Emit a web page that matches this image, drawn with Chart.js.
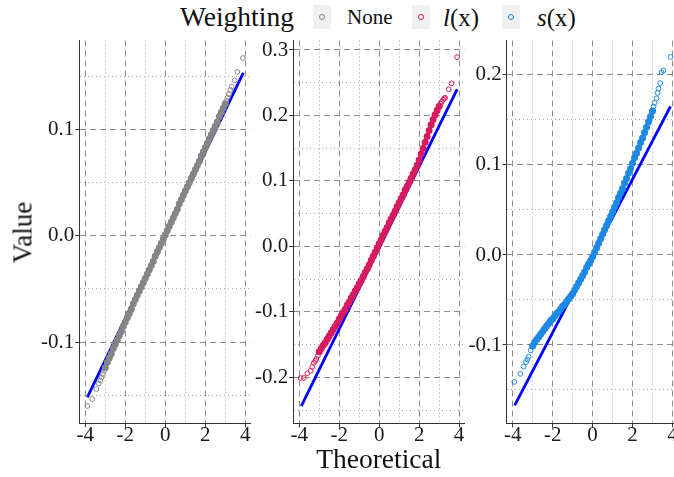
<!DOCTYPE html>
<html>
<head>
<meta charset="utf-8">
<script src="https://cdn.jsdelivr.net/npm/chart.js@4.4.1/dist/chart.umd.min.js"></script>
<style>
html, body { margin: 0; padding: 0; width: 674px; height: 477px; overflow: hidden; background: #fff; }
canvas { position: absolute; top: 0; }
.txt { position: absolute; font-family: "Liberation Serif", serif; color: #111; white-space: nowrap; }
.key { position: absolute; top: 5px; width: 18px; height: 24px; background: #f0f0f0; }
.key i { position: absolute; left: 6px; top: 9px; width: 4px; height: 4px; border: 1px solid; border-radius: 50%; }
</style>
</head>
<body>
<div class="txt" style="left:180px; top:3.4px; font-size:27.5px; line-height:27px;">Weighting</div>
<div class="key" style="left:313px;"><i style="border-color:#858585"></i></div>
<div class="txt" style="left:347px; top:7.4px; font-size:21px; line-height:21px;">None</div>
<div class="key" style="left:412px;"><i style="border-color:#d81b60"></i></div>
<div class="txt" style="left:443px; top:5.4px; font-size:25px; line-height:25px;"><i>l</i>(x)</div>
<div class="key" style="left:502px;"><i style="border-color:#1e88e5"></i></div>
<div class="txt" style="left:537px; top:5.4px; font-size:25px; line-height:25px;"><i>s</i>(x)</div>

<canvas id="p1" width="258" height="477" style="left:0px"></canvas>
<canvas id="p2" width="222" height="477" style="left:250px"></canvas>
<canvas id="p3" width="226" height="477" style="left:460px"></canvas>

<div class="txt" style="left:-76.6px; top:218.5px; width:200px; text-align:center; font-size:27px; line-height:27px; transform:rotate(-90deg);">Value</div>
<div class="txt" style="left:278.8px; top:445.4px; width:200px; text-align:center; font-size:27.5px; line-height:27px;">Theoretical</div>

<script>
// Cuantiles teóricos de la banda central
var bandQ = [-3.0, -2.9, -2.8, -2.7, -2.6, -2.5, -2.4, -2.3, -2.2, -2.1,
             -2.0, -1.9, -1.8, -1.7, -1.6, -1.5, -1.4, -1.3, -1.2, -1.1,
             -1.0, -0.9, -0.8, -0.7, -0.6, -0.5, -0.4, -0.3, -0.2, -0.1,
             0.0,
             0.1, 0.2, 0.3, 0.4, 0.5, 0.6, 0.7, 0.8, 0.9, 1.0,
             1.1, 1.2, 1.3, 1.4, 1.5, 1.6, 1.7, 1.8, 1.9, 2.0,
             2.1, 2.2, 2.3, 2.4, 2.5, 2.6, 2.7, 2.8, 2.9, 3.0];

// Weighting = None
var noneBand = [-0.124, -0.119, -0.115, -0.111, -0.106, -0.102, -0.098, -0.094, -0.090, -0.085,
                -0.081, -0.077, -0.073, -0.069, -0.064, -0.060, -0.056, -0.052, -0.048, -0.044,
                -0.040, -0.036, -0.032, -0.028, -0.024, -0.019, -0.015, -0.011, -0.007, -0.003,
                0.001,
                0.005, 0.009, 0.013, 0.017, 0.021, 0.025, 0.030, 0.034, 0.038, 0.042,
                0.046, 0.050, 0.054, 0.058, 0.062, 0.066, 0.070, 0.075, 0.079, 0.083,
                0.087, 0.091, 0.095, 0.099, 0.103, 0.107, 0.112, 0.116, 0.120, 0.124];
var noneTailQ = [-3.9, -3.65, -3.45, -3.32, -3.25, -3.18, -3.12, -3.06, 3.06, 3.12, 3.18, 3.25, 3.32, 3.47, 3.6, 3.88];
var noneTail = [-0.160, -0.1535, -0.144, -0.139, -0.136, -0.133, -0.130, -0.127, 0.127, 0.130, 0.133, 0.137, 0.140, 0.146, 0.154, 0.167];

// Weighting = l(x)
var lxBand = [-0.161, -0.156, -0.151, -0.147, -0.142, -0.137, -0.132, -0.127, -0.122, -0.117,
              -0.111, -0.106, -0.101, -0.096, -0.090, -0.085, -0.079, -0.074, -0.068, -0.063,
              -0.057, -0.052, -0.046, -0.040, -0.034, -0.028, -0.021, -0.015, -0.009, -0.002,
              0.004,
              0.010, 0.017, 0.023, 0.029, 0.036, 0.042, 0.048, 0.054, 0.061, 0.067,
              0.073, 0.079, 0.086, 0.092, 0.098, 0.104, 0.111, 0.117, 0.124, 0.132,
              0.141, 0.150, 0.159, 0.168, 0.177, 0.186, 0.194, 0.201, 0.208, 0.214];
var lxTailQ = [-3.93, -3.77, -3.6, -3.43, -3.35, -3.27, -3.2, -3.15, -3.07, 3.07, 3.13, 3.2, 3.26, 3.3, 3.48, 3.62, 3.9];
var lxTail = [-0.201, -0.201, -0.194, -0.190, -0.184, -0.178, -0.175, -0.172, -0.167, 0.218, 0.221, 0.224, 0.226, 0.227, 0.240, 0.249, 0.289];

// Weighting = s(x)
var sxBand = [-0.101, -0.097, -0.094, -0.091, -0.088, -0.085, -0.082, -0.079, -0.076, -0.073,
              -0.071, -0.068, -0.065, -0.063, -0.060, -0.057, -0.055, -0.052, -0.049, -0.046,
              -0.043, -0.039, -0.035, -0.031, -0.027, -0.023, -0.019, -0.014, -0.010, -0.006,
              -0.002,
              0.003, 0.008, 0.013, 0.018, 0.023, 0.028, 0.033, 0.038, 0.043, 0.048,
              0.053, 0.058, 0.064, 0.069, 0.074, 0.080, 0.085, 0.091, 0.096, 0.102,
              0.108, 0.113, 0.119, 0.125, 0.130, 0.136, 0.142, 0.148, 0.154, 0.160];
var sxTailQ = [-3.92, -3.62, -3.45, -3.33, -3.27, -3.2, -3.1, 3.05, 3.1, 3.2, 3.25, 3.3, 3.38, 3.45, 3.55, 3.9];
var sxTail = [-0.141, -0.132, -0.124, -0.119, -0.116, -0.113, -0.106, 0.165, 0.169, 0.174, 0.180, 0.185, 0.191, 0.203, 0.205, 0.220];

// Rectas de referencia (qq-line)
var refQ = [-3.9, 3.9];
var noneRef = [-0.152, 0.153];
var lxRef = [-0.244, 0.240];
var sxRef = [-0.167, 0.165];

// Marcas de los ejes
var xTicks = [-4, -2, 0, 2, 4];
var xMinor = [-3, -1, 1, 3];
var noneTicks = [-0.1, 0.0, 0.1];
var noneMinor = [-0.15, -0.05, 0.05, 0.15];
var lxTicks = [-0.2, -0.1, 0.0, 0.1, 0.2, 0.3];
var lxMinor = [-0.25, -0.15, -0.05, 0.05, 0.15, 0.25];
var sxTicks = [-0.1, 0.0, 0.1, 0.2];
var sxMinor = [-0.15, -0.05, 0.05, 0.15];

var FUENTE = "'Liberation Serif', serif";

function esMayor(v, lista) {
    return lista.some(function (t) { return Math.abs(t - v) < 1e-9; });
}

function puntos(qs, vs) {
    return vs.map(function (v, i) { return { x: qs[i], y: v }; });
}

function eje(mayores, menores, extra) {
    var todos = mayores.concat(menores).sort(function (a, b) { return a - b; });
    var cfg = {
        type: 'linear',
        afterBuildTicks: function (s) {
            s.ticks = todos.map(function (v) { return { value: v }; });
        },
        ticks: {
            autoSkip: false,
            maxRotation: 0,
            color: '#1a1a1a',
            font: { family: FUENTE, size: 21, lineHeight: 1 },
            callback: function (v) {
                if (!esMayor(v, mayores)) return '';
                return extra.decimales ? v.toFixed(1) : String(v);
            }
        },
        grid: {
            lineWidth: 1,
            color: function (c) {
                return c.tick && esMayor(c.tick.value, mayores) ? '#8c8c8c' : '#a6a6a6';
            },
            tickLength: 4,
            tickWidth: 1,
            tickColor: function (c) {
                return c.tick && esMayor(c.tick.value, mayores) ? '#333' : 'rgba(0,0,0,0)';
            }
        },
        border: {
            color: '#333',
            width: 1,
            dash: function (c) {
                if (!c.tick) return [];
                return esMayor(c.tick.value, mayores) ? [6, 4] : [1, 3];
            }
        }
    };
    for (var k in extra.opts) cfg[k] = extra.opts[k];
    for (var t in extra.ticks) cfg.ticks[t] = extra.ticks[t];
    return cfg;
}

function panel(id, color, band, tailQ, tail, ref, yTicks, yMinor, yMin, yMax, yWidth, padRight) {
    var ctx = document.getElementById(id).getContext('2d');
    return new Chart(ctx, {
        type: 'scatter',
        data: {
            datasets: [{
                data: puntos(bandQ, band),
                backgroundColor: color,
                borderColor: color,
                pointRadius: 2.8,
                borderWidth: 1.4
            }, {
                data: puntos(tailQ, tail),
                backgroundColor: 'rgba(0,0,0,0)',
                borderColor: color,
                pointRadius: 2.4,
                borderWidth: 1
            }, {
                type: 'line',
                data: puntos(refQ, ref),
                borderColor: '#0000ff',
                borderWidth: 2.8,
                pointRadius: 0,
                fill: false
            }]
        },
        options: {
            responsive: false,
            animation: false,
            events: [],
            layout: { padding: { top: 40.5, right: padRight, bottom: 0, left: 0 } },
            plugins: { legend: { display: false }, tooltip: { enabled: false } },
            scales: {
                x: eje(xTicks, xMinor, {
                    decimales: false,
                    opts: { min: -4.3, max: 4.26, afterFit: function (s) { s.height = 53.7; } },
                    ticks: { padding: -2 }
                }),
                y: eje(yTicks, yMinor, {
                    decimales: true,
                    opts: { min: yMin, max: yMax, afterFit: function (s) { s.width = yWidth; } },
                    ticks: { padding: 1 }
                })
            }
        }
    });
}

panel('p1', '#858585', noneBand, noneTailQ, noneTail, noneRef, noneTicks, noneMinor, -0.1763, 0.1835, 79.3, 7.5);
panel('p2', '#d81b60', lxBand, lxTailQ, lxTail, lxRef, lxTicks, lxMinor, -0.2702, 0.3145, 43.3, 7.7);
panel('p3', '#1e88e5', sxBand, sxTailQ, sxTail, sxRef, sxTicks, sxMinor, -0.187, 0.2383, 46.7, 8.3);
</script>
</body>
</html>
